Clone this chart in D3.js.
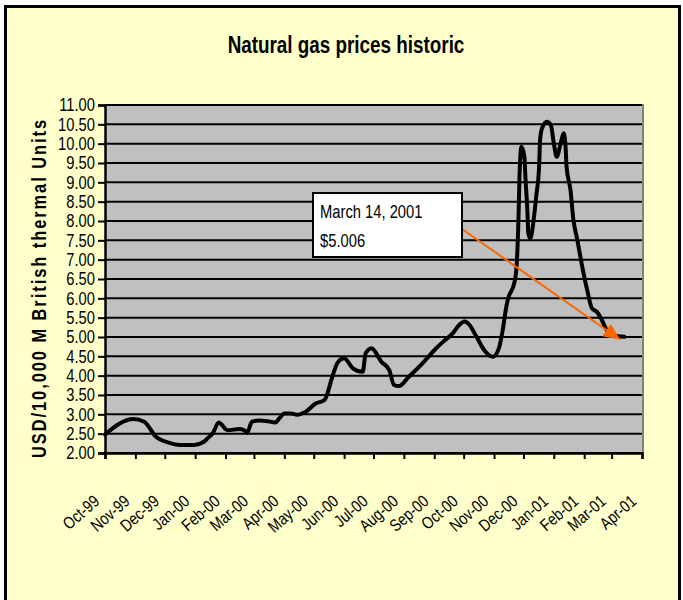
<!DOCTYPE html>
<html><head><meta charset="utf-8">
<script src="https://cdn.jsdelivr.net/npm/d3@7/dist/d3.min.js"></script>
<style>body{margin:0;background:#fff}</style>
</head><body>
<svg id="c" width="683" height="600"></svg>
<script>
// ---- data ----
const dates = ["1999-10-01","1999-10-30","1999-11-10","1999-11-22","1999-12-05","1999-12-16","1999-12-31",
"2000-01-10","2000-01-14","2000-01-19","2000-01-25","2000-02-03","2000-02-15","2000-02-20","2000-02-23","2000-02-28",
"2000-03-06","2000-03-13","2000-03-23","2000-03-27","2000-04-01","2000-04-08","2000-04-14","2000-04-23",
"2000-05-03","2000-05-12","2000-05-15","2000-05-19","2000-05-26","2000-06-01","2000-06-10","2000-06-20","2000-06-23","2000-06-29",
"2000-07-09","2000-07-17","2000-07-22","2000-07-27","2000-08-06","2000-08-20","2000-09-03","2000-09-12","2000-09-20","2000-09-25",
"2000-10-02","2000-10-07","2000-10-14","2000-10-22","2000-10-31","2000-11-06","2000-11-10","2000-11-13","2000-11-15","2000-11-22",
"2000-11-24","2000-11-26","2000-11-27","2000-11-29","2000-12-02","2000-12-03","2000-12-05","2000-12-06","2000-12-08","2000-12-11",
"2000-12-14","2000-12-17","2000-12-18","2000-12-20","2000-12-25","2000-12-29","2001-01-01","2001-01-04","2001-01-08","2001-01-11",
"2001-01-13","2001-01-14","2001-01-18","2001-01-21","2001-01-25","2001-01-30","2001-02-04","2001-02-09","2001-02-14","2001-02-19",
"2001-02-24","2001-03-03","2001-03-14"];
const prices = [2.48,2.88,2.81,2.42,2.27,2.21,2.21,
2.29,2.39,2.51,2.79,2.59,2.62,2.59,2.53,2.81,
2.84,2.83,2.79,2.90,3.02,3.02,2.99,3.07,
3.28,3.37,3.54,3.89,4.36,4.45,4.19,4.10,4.58,4.71,
4.36,4.15,3.76,3.73,3.97,4.32,4.71,4.92,5.10,5.27,
5.40,5.31,5.01,4.66,4.49,4.71,5.20,5.70,5.96,6.43,
6.82,8.11,9.15,9.92,9.66,9.15,8.28,7.68,7.55,7.94,
8.63,9.41,10.10,10.40,10.57,10.48,10.01,9.66,10.01,10.27,
9.92,9.41,8.80,8.03,7.51,6.82,6.22,5.74,5.65,5.44,
5.18,5.05,5.006];
const monthTicks = ["1999-10-01","1999-11-01","1999-12-01","2000-01-01","2000-02-01","2000-03-01","2000-04-01",
"2000-05-01","2000-06-01","2000-07-01","2000-08-01","2000-09-01","2000-10-01","2000-11-01","2000-12-01",
"2001-01-01","2001-02-01","2001-03-01","2001-04-01"];
const monthLabels = ["Oct-99","Nov-99","Dec-99","Jan-00","Feb-00","Mar-00","Apr-00","May-00","Jun-00","Jul-00",
"Aug-00","Sep-00","Oct-00","Nov-00","Dec-00","Jan-01","Feb-01","Mar-01","Apr-01"];
const yTickValues = [2,2.5,3,3.5,4,4.5,5,5.5,6,6.5,7,7.5,8,8.5,9,9.5,10,10.5,11];
const title = "Natural gas prices historic";
const yTitle = "USD/10,000 M British thermal Units";
const noteDate = "2001-03-14", noteValue = 5.006;
const noteLines = ["March 14, 2001", "$5.006"];

// ---- layout ----
const parse = d3.timeParse("%Y-%m-%d");
const L = 105, R = 642, T = 105, B = 453;
const font = "'Liberation Sans',Arial,sans-serif";
const NX = 0.82; // horizontal squeeze to mimic a narrow face
const svg = d3.select("#c");

svg.append("rect").attr("x",0).attr("y",0).attr("width",683).attr("height",600).attr("fill","#fff");
svg.append("rect").attr("x",5.5).attr("y",6.5).attr("width",674).attr("height",620)
  .attr("fill","#FFFFCC").attr("stroke","#000").attr("stroke-width",3);

const x = d3.scaleTime().domain([parse(monthTicks[0]), parse(monthTicks[monthTicks.length-1])]).range([L, R]);
const y = d3.scaleLinear().domain([2, 11]).range([B, T]);

// plot area
svg.append("rect").attr("x",L).attr("y",T).attr("width",R-L).attr("height",B-T).attr("fill","#C0C0C0");
svg.append("line").attr("x1",R+1).attr("x2",R+1).attr("y1",T-1).attr("y2",B).attr("stroke","#808080").attr("stroke-width",2);

// gridlines
svg.append("g").selectAll("line").data(yTickValues).join("line")
  .attr("x1",L).attr("x2",R).attr("y1",d=>y(d)).attr("y2",d=>y(d))
  .attr("stroke","#000").attr("stroke-width",2);

// y axis
const yAxis = d3.axisLeft(y).tickValues(yTickValues).tickFormat(d3.format(".2f")).tickSizeOuter(0).tickSize(7).tickPadding(3);
const gy = svg.append("g").attr("transform",`translate(${L},0)`).call(yAxis);
gy.select(".domain").attr("stroke","#000").attr("stroke-width",2.5);
gy.selectAll(".tick line").attr("stroke","#000").attr("stroke-width",2);
gy.selectAll("text").attr("font-family",font).attr("font-size",18).attr("fill","#000")
  .attr("x",-10/NX).attr("transform",`scale(${NX},1)`);

// x axis
const xAxis = d3.axisBottom(x).tickValues(monthTicks.map(parse)).tickFormat((d,i)=>monthLabels[i]).tickSizeOuter(0).tickSize(6);
const gx = svg.append("g").attr("transform",`translate(0,${B})`).call(xAxis);
gx.select(".domain").attr("stroke","#000").attr("stroke-width",2.5);
gx.selectAll(".tick line").attr("stroke","#000").attr("stroke-width",2);
gx.selectAll("text").attr("font-family",font).attr("font-size",17).attr("fill","#000")
  .attr("text-anchor","end").attr("y",0).attr("dy",0)
  .attr("transform",`translate(-5,50) rotate(-41) scale(${NX},1)`);

// line
const pts = dates.map((d,i)=>({d:parse(d), v:prices[i]}));
svg.append("path").datum(pts)
  .attr("d", d3.line().x(p=>x(p.d)).y(p=>y(p.v)).curve(d3.curveMonotoneX))
  .attr("fill","none").attr("stroke","#000").attr("stroke-width",4)
  .attr("stroke-linejoin","round").attr("stroke-linecap","round");

// title
svg.append("text").attr("transform",`translate(346,53) scale(${NX},1)`).attr("text-anchor","middle")
  .attr("font-family",font).attr("font-weight","bold").attr("font-size",23).text(title);

// y title
svg.append("text").attr("transform",`translate(46,288) rotate(-90) scale(${NX},1)`).attr("text-anchor","middle")
  .attr("font-family",font).attr("font-weight","bold").attr("font-size",20)
  .attr("letter-spacing","2.4px").text(yTitle);

// annotation
const defs = svg.append("defs");
defs.append("marker").attr("id","ah").attr("markerUnits","userSpaceOnUse")
  .attr("markerWidth",18).attr("markerHeight",16).attr("refX",17).attr("refY",7.5).attr("orient","auto")
  .append("path").attr("d","M0,0 L17,7.5 L0,15 Z").attr("fill","#FF6600");
const bx = 313, by = 193, bw = 149, bh = 64;
const tx = x(parse(noteDate)) - 4, ty = y(noteValue) + 3;
svg.append("line").attr("x1",bx+bw).attr("y1",by+36).attr("x2",tx).attr("y2",ty)
  .attr("stroke","#FF6600").attr("stroke-width",2).attr("marker-end","url(#ah)");
svg.append("rect").attr("x",bx).attr("y",by).attr("width",bw).attr("height",bh)
  .attr("fill","#fff").attr("stroke","#000").attr("stroke-width",2);
svg.selectAll("text.note").data(noteLines).join("text").attr("class","note")
  .attr("transform",(d,i)=>`translate(${bx+7},${by+25+i*29}) scale(${NX},1)`)
  .attr("font-family",font).attr("font-size",18).attr("fill","#000").text(d=>d);
</script>
</body></html>
